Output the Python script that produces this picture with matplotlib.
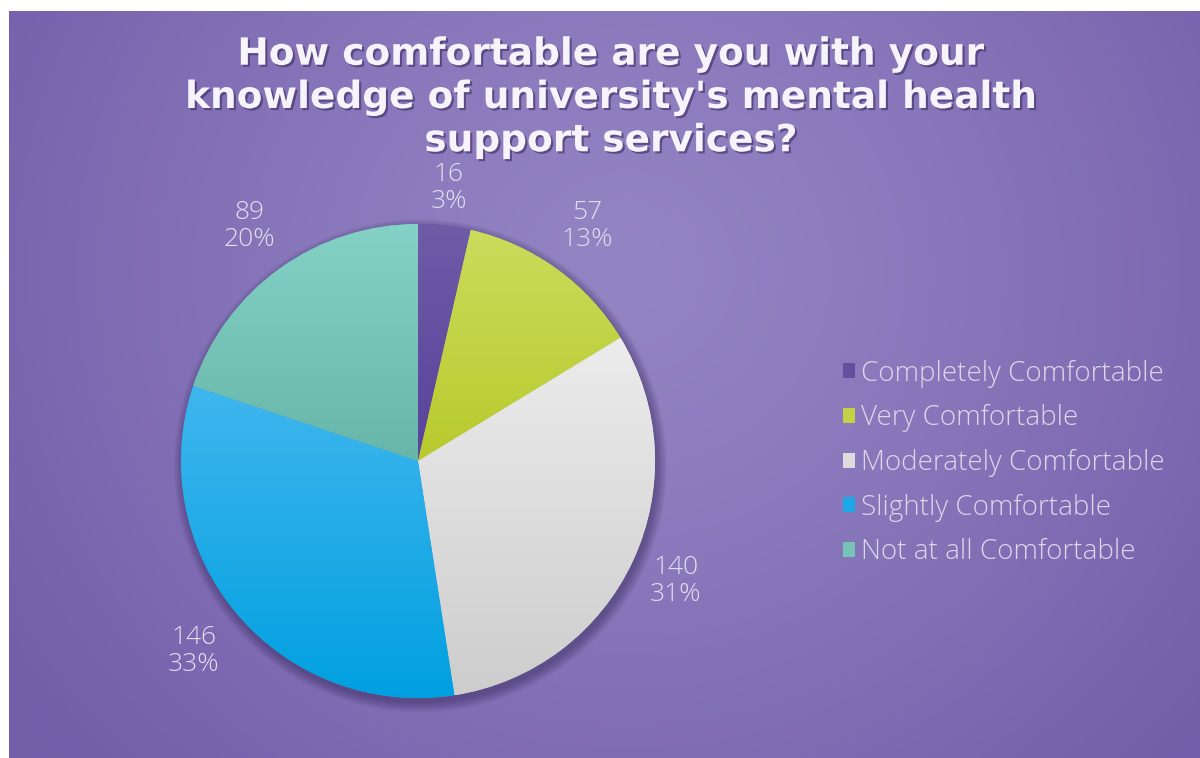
import matplotlib.pyplot as plt
import matplotlib.patheffects as pe
from matplotlib.patches import Circle
import numpy as np

# survey answers
categories = ['Completely Comfortable', 'Very Comfortable', 'Moderately Comfortable',
              'Slightly Comfortable', 'Not at all Comfortable']
counts = [16, 57, 140, 146, 89]
pct_labels = ['3%', '13%', '31%', '33%', '20%']

title = "How comfortable are you with your\nknowledge of university's mental health\nsupport services?"

# slice colours, lighter at the top of each slice
top_colors = ['#6e5ca8', '#cadc5c', '#ececec', '#40b6ee', '#84d2c6']
bottom_colors = ['#57439a', '#b8ca2c', '#cdcdcd', '#00a0e0', '#68b6aa']
mid_colors = ['#62509f', '#c1d344', '#dddddd', '#1aa9e6', '#76c4b8']

# how far out each value label sits (in radii)
label_dist = [1.16, 1.22, 1.2, 1.24, 1.22]

LABEL_FONT = ['Open Sans', 'DejaVu Sans']


def hex2rgb(h):
    h = h.lstrip('#')
    return np.array([int(h[i:i + 2], 16) for i in (0, 2, 4)]) / 255.0


W, H = 1200, 758
fig = plt.figure(figsize=(W / 100, H / 100), dpi=100)
fig.patch.set_facecolor('white')

# purple backdrop with a soft radial glow
bg = fig.add_axes([9 / W, 0, 1 - 9 / W, 1 - 11 / H])
ny, nx = 380, 600
yy, xx = np.mgrid[0:1:ny * 1j, 0:1:nx * 1j]
d = np.sqrt(((xx - 0.52) / 0.62) ** 2 + ((yy - 0.35) / 0.95) ** 2)
t = np.clip(d, 0, 1)[..., None] ** 1.3
c0, c1 = hex2rgb('#9384c3'), hex2rgb('#735eaa')
bg.imshow(c0 * (1 - t) + c1 * t, extent=[0, 1, 0, 1], aspect='auto', origin='upper')
bg.set_axis_off()

# pie
R = 237
cx, cy = 418, 461
ax = fig.add_axes([(cx - R) / W, (H - cy - R) / H, 2 * R / W, 2 * R / H])

# soft drop shadow
for r in np.linspace(1.0, 1.04, 10):
    ax.add_patch(Circle((0.01, -0.02), r, color='#241845', alpha=0.045, lw=0,
                        zorder=0, clip_on=False))

labels = [f'{c}\n{p}' for c, p in zip(counts, pct_labels)]
wedges, texts = ax.pie(counts, startangle=90, counterclock=False, colors=mid_colors,
                       labels=labels, labeldistance=1.2,
                       wedgeprops=dict(linewidth=0, zorder=1),
                       textprops=dict(color='#e2def0', fontsize=19, family=LABEL_FONT,
                                      fontweight='light', ha='center', va='center',
                                      linespacing=1.1))

for w, txt, dist in zip(wedges, texts, label_dist):
    ang = np.deg2rad((w.theta1 + w.theta2) / 2)
    txt.set_position((dist * np.cos(ang), dist * np.sin(ang)))

for w, ct, cb in zip(wedges, top_colors, bottom_colors):
    ext = w.get_path().get_extents()
    g = np.linspace(0, 1, 200)[:, None, None]
    img = hex2rgb(ct) * (1 - g) + hex2rgb(cb) * g
    im = ax.imshow(img, extent=[ext.x0, ext.x1, ext.y0, ext.y1], origin='upper',
                   aspect='auto', zorder=2)
    im.set_clip_path(w)

ax.set_xlim(-1, 1)
ax.set_ylim(-1, 1)
ax.set_aspect('equal')
ax.set_axis_off()

fig.text(611 / W, 1 - 98 / H, title, ha='center', va='center', fontsize=27,
         fontweight='bold', color='#f6f4fa', linespacing=1.26,
         path_effects=[pe.withSimplePatchShadow(offset=(1.5, -1.5),
                                                shadow_rgbFace='#3a2a60', alpha=0.6)])

leg = fig.legend(wedges, categories, loc='center left', bbox_to_anchor=(829 / W, 1 - 463 / H),
                 frameon=False, prop=dict(family=LABEL_FONT, weight='light', size=20),
                 handlelength=0.45, handleheight=0.45,
                 handletextpad=0.2, labelspacing=0.6, borderpad=0)
for txt in leg.get_texts():
    txt.set_color('#dcd6ea')

fig.savefig('out.png', dpi=100, facecolor=fig.get_facecolor())
